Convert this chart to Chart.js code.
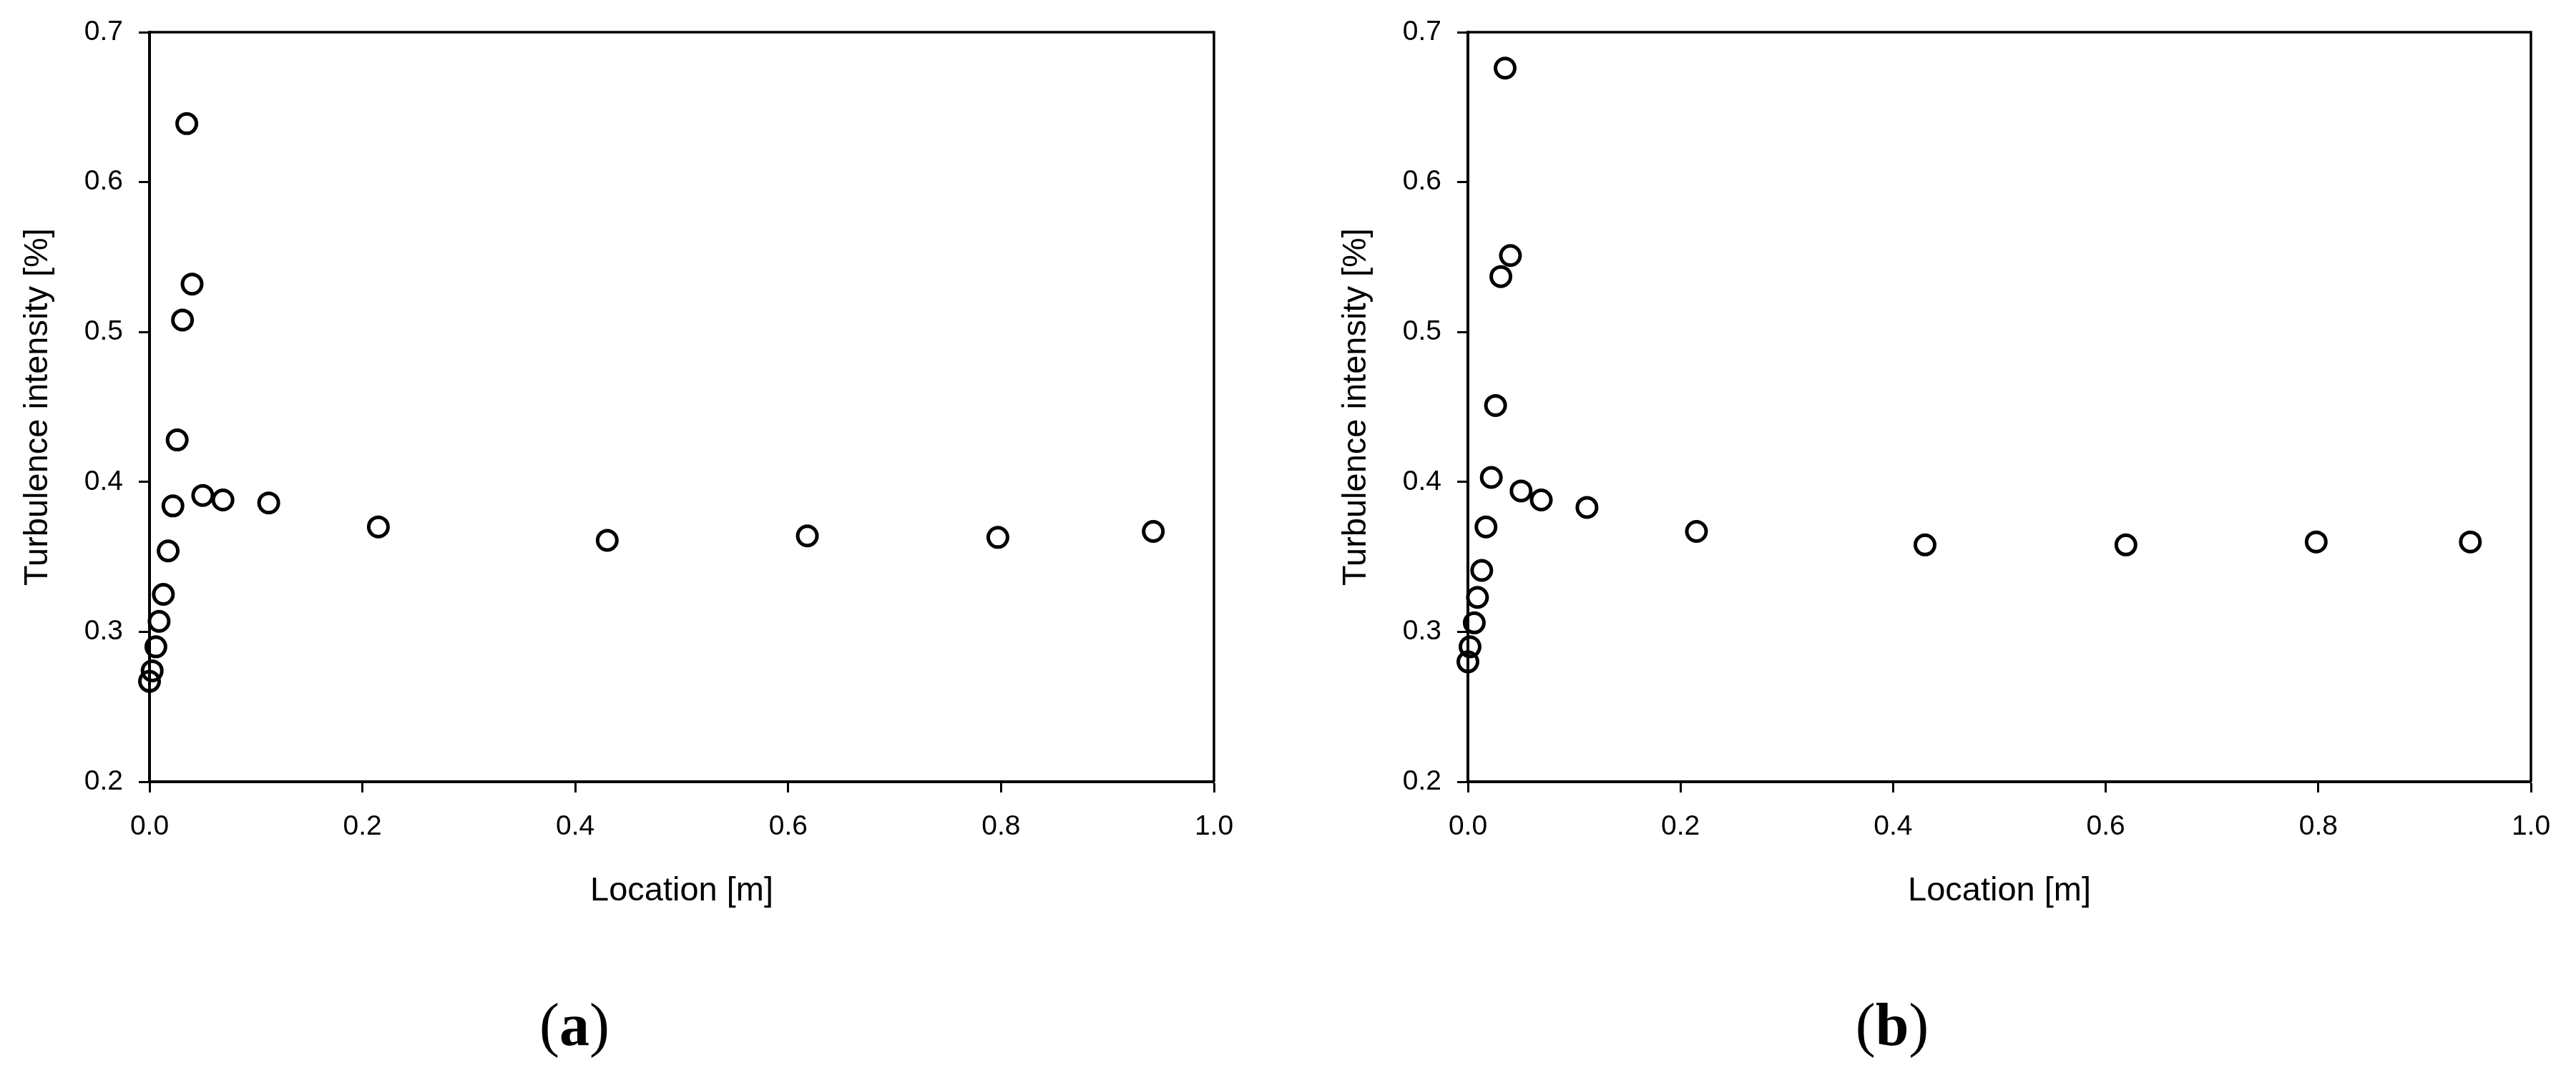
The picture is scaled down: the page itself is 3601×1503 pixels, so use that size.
<!DOCTYPE html>
<html>
<head>
<meta charset="utf-8">
<script src="https://cdn.jsdelivr.net/npm/chart.js@4.4.1/dist/chart.umd.min.js"></script>
<style>
    html, body { margin: 0; padding: 0; background: #fff; }
    body { width: 3601px; height: 1503px; position: relative; overflow: hidden; }
    .panel { position: absolute; top: 0; height: 1503px; }
    #panel-a { left: 0; width: 1800px; }
    #panel-b { left: 1843px; width: 1758px; }
    .caption {
        position: absolute; top: 1391px; width: 300px; text-align: center;
        font-family: "Liberation Serif", "Times New Roman", serif; font-size: 84px; line-height: 84px;
    }
    .caption b { font-weight: bold; }
</style>
</head>
<body>
<div class="panel" id="panel-a"><canvas id="chartA"></canvas></div>
<div class="panel" id="panel-b"><canvas id="chartB"></canvas></div>
<div class="caption" style="left: 653px;">(<b>a</b>)</div>
<div class="caption" style="left: 2495px;">(<b>b</b>)</div>

<script>
// (a) 측정 위치 / 난류 강도
const locA = [0.000, 0.0025, 0.006, 0.009, 0.013, 0.0175, 0.022, 0.026, 0.031, 0.035, 0.040, 0.050, 0.069, 0.112, 0.215, 0.430, 0.618, 0.797, 0.943];
const tiA  = [0.267, 0.274, 0.290, 0.307, 0.325, 0.354, 0.384, 0.428, 0.508, 0.639, 0.532, 0.391, 0.388, 0.386, 0.370, 0.361, 0.364, 0.363, 0.367];

// (b) 측정 위치 / 난류 강도
const locB = [0.000, 0.002, 0.006, 0.009, 0.013, 0.017, 0.022, 0.026, 0.031, 0.035, 0.040, 0.050, 0.069, 0.112, 0.215, 0.430, 0.619, 0.798, 0.943];
const tiB  = [0.280, 0.290, 0.306, 0.323, 0.341, 0.370, 0.403, 0.451, 0.537, 0.676, 0.551, 0.394, 0.388, 0.383, 0.367, 0.358, 0.358, 0.360, 0.360];

// 축 눈금
const xTicks = [0.0, 0.2, 0.4, 0.6, 0.8, 1.0];
const yTicks = [0.2, 0.3, 0.4, 0.5, 0.6, 0.7];

const xTitle = 'Location [m]';
const yTitle = 'Turbulence intensity [%]';

{
    const FONT = '"Liberation Sans", Arial, sans-serif';

    // 위쪽/오른쪽 테두리
    const framePlugin = {
        id: 'frame',
        afterDraw(chart) {
            const { ctx, chartArea: a } = chart;
            ctx.save();
            ctx.strokeStyle = '#000';
            ctx.lineWidth = 3.5;
            ctx.beginPath();
            ctx.moveTo(a.left, a.top);
            ctx.lineTo(a.right, a.top);
            ctx.lineTo(a.right, a.bottom);
            ctx.stroke();
            ctx.restore();
        }
    };

    const Panels = {
        charts: {},

        init() {
            this.charts.a = this.build('chartA', locA, tiA, 103);
            this.charts.b = this.build('chartB', locB, tiB, 63);
        },

        build(id, xs, ys, rightPad) {
            const points = xs.map((x, i) => ({ x: x, y: ys[i] }));
            return new Chart(document.getElementById(id), {
                type: 'scatter',
                data: {
                    datasets: [{
                        data: points,
                        pointStyle: 'circle',
                        pointRadius: 13.5,
                        pointHoverRadius: 13.5,
                        borderWidth: 5,
                        borderColor: '#000',
                        backgroundColor: 'rgba(0,0,0,0)',
                        clip: false
                    }]
                },
                options: {
                    responsive: true,
                    maintainAspectRatio: false,
                    animation: false,
                    devicePixelRatio: 1,
                    layout: { padding: { top: 45, right: rightPad, left: 0, bottom: 0 } },
                    plugins: { legend: { display: false }, tooltip: { enabled: false } },
                    scales: {
                        x: {
                            type: 'linear',
                            min: 0, max: 1,
                            afterBuildTicks: s => { s.ticks = xTicks.map(v => ({ value: v })); },
                            afterFit: s => { s.height = 410; s.paddingLeft = 0; s.paddingRight = 0; },
                            border: { display: true, color: '#000', width: 4 },
                            grid: { drawOnChartArea: false, drawTicks: true, tickLength: 15, tickWidth: 3, color: '#000' },
                            ticks: {
                                autoSkip: false, maxRotation: 0, padding: 25, color: '#000',
                                font: { family: FONT, size: 39 },
                                callback: v => v.toFixed(1)
                            },
                            title: {
                                display: true, text: xTitle, color: '#000',
                                font: { family: FONT, size: 47 },
                                padding: { top: 0, bottom: 229 }
                            }
                        },
                        y: {
                            type: 'linear',
                            min: 0.2, max: 0.7,
                            afterBuildTicks: s => { s.ticks = yTicks.map(v => ({ value: v })); },
                            afterFit: s => { s.width = 209; s.paddingTop = 0; s.paddingBottom = 0; },
                            border: { display: true, color: '#000', width: 4 },
                            grid: { drawOnChartArea: false, drawTicks: true, tickLength: 15, tickWidth: 3, color: '#000' },
                            ticks: {
                                autoSkip: false, padding: 22, color: '#000',
                                font: { family: FONT, size: 39 },
                                callback: v => v.toFixed(1)
                            },
                            title: {
                                display: true, text: yTitle, color: '#000',
                                font: { family: FONT, size: 47 },
                                padding: { top: 25, bottom: 0 }
                            }
                        }
                    }
                },
                plugins: [framePlugin]
            });
        }
    };

    window.Panels = Panels;
    Panels.init();
}
</script>
</body>
</html>
